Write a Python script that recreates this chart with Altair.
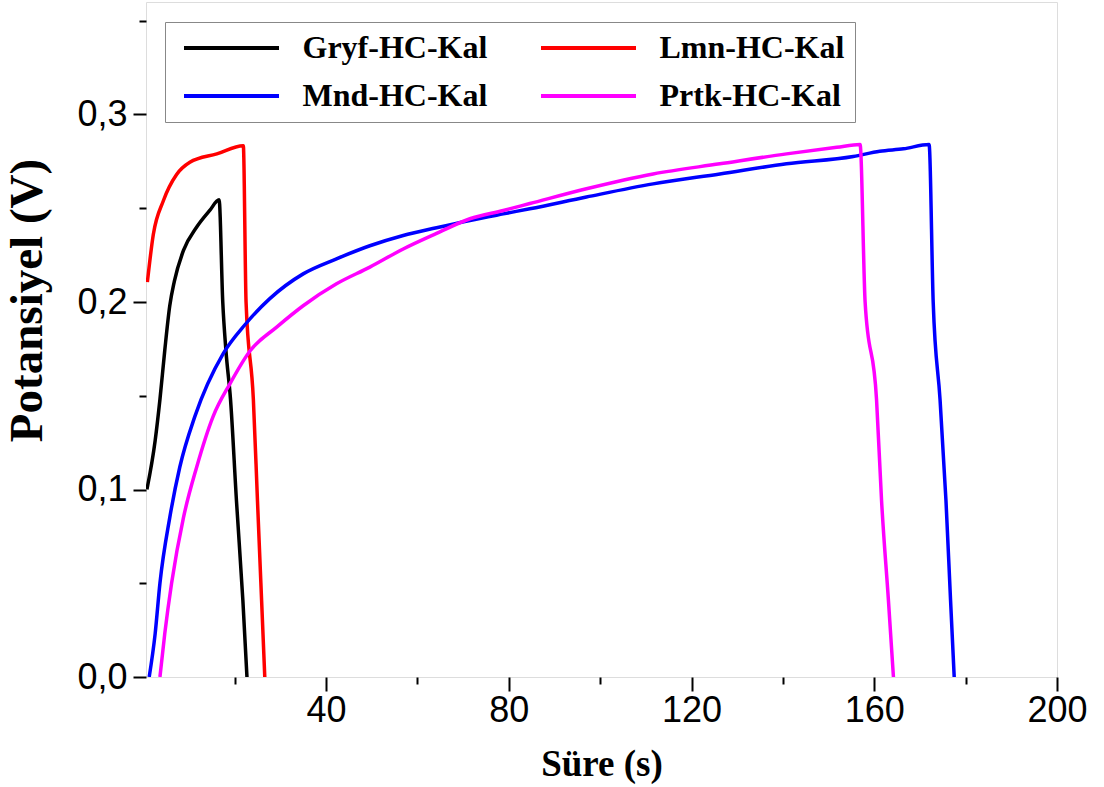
import altair as alt
import pandas as pd

series_names = ["Gryf-HC-Kal", "Lmn-HC-Kal", "Mnd-HC-Kal", "Prtk-HC-Kal"]
series_colors = ["#000000", "#FF0000", "#0000FF", "#FF00FF"]

gryf_t = [0.8, 2.6, 3.65, 4.7, 5.8, 6.8, 8.8, 11.7, 14.6, 16.6, 17.4, 18.1, 19.1, 20.4, 21.8, 22.7]
gryf_v = [0.100, 0.126, 0.148, 0.174, 0.198, 0.211, 0.2275, 0.240, 0.249, 0.2545, 0.200, 0.174, 0.148, 0.094, 0.041, 0.0]

lmn_t = [0.9, 2.2, 4.4, 7.3, 10.2, 16.1, 21.9, 22.5, 24.1, 25.0, 25.9, 26.6]
lmn_v = [0.2106, 0.236, 0.254, 0.268, 0.2745, 0.279, 0.2834, 0.200, 0.148, 0.094, 0.041, 0.0]

mnd_t = [1.3, 2.6, 3.65, 5.8, 8.0, 11.3, 17.5, 22.3, 27.7, 35.0, 42.3, 49.6, 56.9, 64.2, 71.5, 78.8,
         84.6, 97.0, 111.6, 126.2, 140.8, 155.4, 161.2, 166.4, 172.0, 172.9, 174.4, 175.7, 176.7, 177.5]
mnd_v = [0.0, 0.023, 0.050, 0.085, 0.112, 0.139, 0.1725, 0.188, 0.2018, 0.215, 0.223, 0.230, 0.2355, 0.2396,
         0.2435, 0.247, 0.2497, 0.256, 0.263, 0.2683, 0.2737, 0.2776, 0.2804, 0.2817, 0.284, 0.200, 0.148,
         0.094, 0.041, 0.0]

prtk_t = [3.65, 4.7, 6.2, 8.8, 11.7, 15.3, 19.0, 23.4, 29.2, 35.0, 42.3, 49.6, 56.9, 64.2, 71.5, 78.8,
          84.6, 97.0, 111.6, 126.2, 140.8, 151.8, 156.9, 158.0, 160.5, 161.6, 163.1, 164.2]
prtk_v = [0.0, 0.023, 0.050, 0.085, 0.112, 0.139, 0.1565, 0.174, 0.1866, 0.198, 0.2097, 0.2186, 0.2283,
          0.2366, 0.2444, 0.2488, 0.2525, 0.2604, 0.2683, 0.2737, 0.279, 0.2825, 0.284, 0.200, 0.148,
          0.094, 0.041, 0.0]

x_ticks = [20, 40, 60, 80, 100, 120, 140, 160, 180, 200]
y_ticks = [0.0, 0.05, 0.1, 0.15, 0.2, 0.25, 0.3, 0.35]

rows = []
for name, ts, vs in zip(series_names, [gryf_t, lmn_t, mnd_t, prtk_t], [gryf_v, lmn_v, mnd_v, prtk_v]):
    for i, (t, v) in enumerate(zip(ts, vs)):
        rows.append({"series": name, "t": t, "V": v, "i": i})
df = pd.DataFrame(rows)

x_axis = alt.Axis(
    values=x_ticks, domain=False, grid=False,
    labelExpr="datum.value % 40 === 0 ? datum.label : ''",
    labelFont="Liberation Sans", labelFontSize=36, labelColor="black",
    labelPadding=2, labelFlush=False, labelOverlap=False,
    tickColor="black", tickWidth=2,
    tickSize={"condition": {"test": "datum.value % 40 === 0", "value": 14}, "value": 7},
    title="Süre (s)", titleFont="Liberation Serif", titleFontSize=37, titleFontWeight="bold",
    titleColor="black", titleX=455.5, titleY=98, titleAlign="center", titleBaseline="alphabetic",
)
y_axis = alt.Axis(
    values=y_ticks, domain=False, grid=False,
    labelExpr="round(datum.value*100) % 10 === 0 ? replace(format(datum.value, '.1f'), '.', ',') : ''",
    labelFont="Liberation Sans", labelFontSize=36, labelColor="black",
    labelPadding=6, labelFlush=False, labelOverlap=False,
    tickColor="black", tickWidth=2,
    tickSize={"condition": {"test": "round(datum.value*100) % 10 === 0", "value": 13}, "value": 7},
    title="Potansiyel (V)", titleFont="Liberation Serif", titleFontSize=47, titleFontWeight="bold",
    titleColor="black", titleX=-119, titleY=298, titleAngle=270, titleAlign="center", titleBaseline="middle",
)

legend = alt.Legend(
    title=None, orient="none", legendX=19, legendY=20, columns=2, direction="horizontal",
    symbolType="M-4.75,0H4.75", symbolSize=400, symbolStrokeWidth=4, symbolOffset=40.5,
    labelOffset=55, labelFont="Liberation Serif", labelFontSize=32, labelFontWeight="bold",
    labelColor="black", labelLimit=400,
    rowPadding=16, columnPadding=44, padding=10,
    fillColor="white", strokeColor="#888888",
)

chart = alt.Chart(df).mark_line(strokeWidth=3.5, clip=True, interpolate="monotone").encode(
    x=alt.X("t:Q", scale=alt.Scale(domain=[0.6, 200], nice=False, zero=False), axis=x_axis),
    y=alt.Y("V:Q", scale=alt.Scale(domain=[0, 0.36], nice=False), axis=y_axis),
    color=alt.Color("series:N", scale=alt.Scale(domain=series_names, range=series_colors), legend=legend),
    order="i:Q",
).properties(
    width=911, height=675,
    autosize=alt.AutoSizeParams(type="none"),
    padding={"left": 146, "top": 2, "right": 47, "bottom": 108},
).configure_view(
    stroke="black", strokeWidth=2
).configure_legend(
    strokeWidth=2
).configure(background="white")

chart.save("out.html", embed_options={"renderer": "svg", "actions": False})
